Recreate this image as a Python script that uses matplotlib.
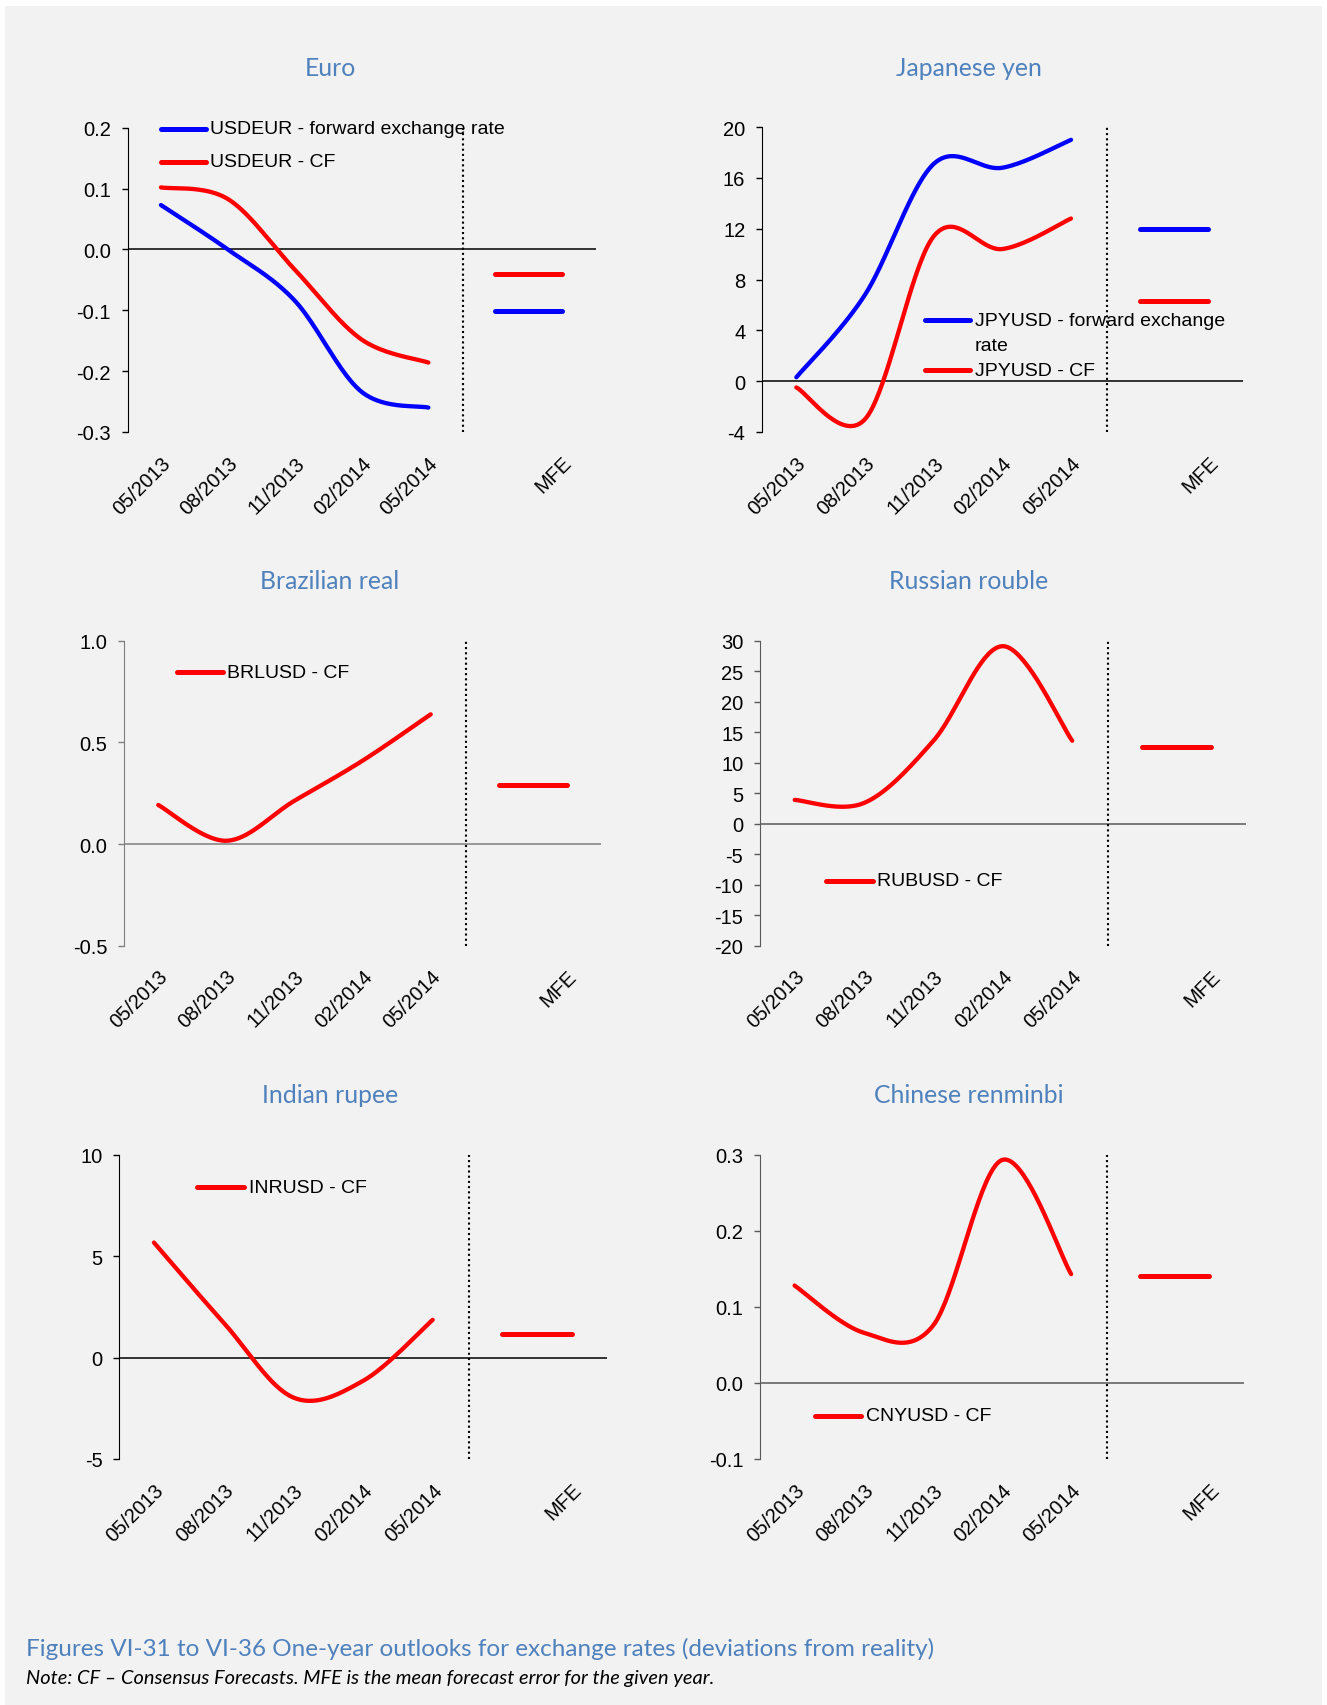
import numpy as np
import matplotlib
matplotlib.use('Agg')
import matplotlib.pyplot as plt
from matplotlib.lines import Line2D
from matplotlib.patches import Rectangle

W, H = 1327, 1706

# x axis categories (quarterly) + the MFE slot
dates = ['05/2013', '08/2013', '11/2013', '02/2014', '05/2014']
mfe_label = 'MFE'

# values
eur_fwd = [0.073, 0.0, -0.084, -0.234, -0.26]
eur_cf = [0.102, 0.083, -0.033, -0.148, -0.186]
eur_mfe_fwd = -0.102
eur_mfe_cf = -0.040

jpy_fwd = [0.3, 6.8, 17.1, 16.8, 19.0]
jpy_cf = [-0.5, -3.0, 11.4, 10.4, 12.8]
jpy_mfe_fwd = 12.0
jpy_mfe_cf = 6.3

brl_cf = [0.192, 0.016, 0.213, 0.41, 0.638]
brl_mfe_cf = 0.29

rub_cf = [3.9, 3.4, 13.6, 29.1, 13.6]
rub_mfe_cf = 12.6

inr_cf = [5.67, 1.72, -1.97, -1.15, 1.86]
inr_mfe_cf = 1.15

cny_cf = [0.128, 0.066, 0.075, 0.293, 0.143]
cny_mfe_cf = 0.141

RED = '#ff0000'
BLUE = '#0000ff'
TITLE_BLUE = '#4f81bd'
NUM_FONT = 'Liberation Sans'
TXT_FONT = 'Lato'


def smooth(xs, ys, n=40):
    # excel style smoothed line (catmull-rom through the points)
    px = np.concatenate([[xs[0]], xs, [xs[-1]]]).astype(float)
    py = np.concatenate([[ys[0]], ys, [ys[-1]]]).astype(float)
    t = np.linspace(0, 1, n)
    ox, oy = [], []
    for i in range(1, len(px) - 2):
        for p, out in ((px, ox), (py, oy)):
            p0, p1, p2, p3 = p[i - 1], p[i], p[i + 1], p[i + 2]
            seg = 0.5 * (2 * p1 + (-p0 + p2) * t + (2 * p0 - 5 * p1 + 4 * p2 - p3) * t ** 2
                         + (-p0 + 3 * p1 - 3 * p2 + p3) * t ** 3)
            out.extend(seg)
    return np.array(ox), np.array(oy)


def fx(x):
    return x / W


def fy(y):
    return 1 - y / H


fig = plt.figure(figsize=(W / 100, H / 100), dpi=100, facecolor='white')
fig.add_artist(Rectangle((fx(5), 0), fx(1322) - fx(5), fy(7), transform=fig.transFigure,
                         facecolor='#f2f2f2', edgecolor='none', zorder=-10))


def panel(box, title, title_xy, series, ylim, ystep, fmt, axcol, legend):
    left, right, top, bottom = box
    ax = fig.add_axes([fx(left), fy(bottom), fx(right) - fx(left), fy(top) - fy(bottom)])
    ax.set_facecolor('none')
    x = np.arange(len(dates))
    for vals, mfe, col in series:
        sx, sy = smooth(x, vals)
        ax.plot(sx, sy, color=col, lw=3.1, solid_capstyle='round')
        ax.plot([5, 6], [mfe, mfe], color=col, lw=3.6, solid_capstyle='round')
    ax.axhline(0, color=axcol, lw=1.1, zorder=0)
    ax.axvline(4.52, color='black', ls=(0, (1, 1.5)), lw=1.5)
    ax.set_xlim(-0.5, 6.5)
    ax.set_ylim(*ylim)
    ticks = np.arange(ylim[0], ylim[1] + ystep / 2, ystep)
    ax.set_yticks(ticks)
    ax.set_yticklabels([fmt % v for v in ticks], fontsize=14.5, family=NUM_FONT)
    ax.set_xticks(list(x) + [6])
    ax.set_xticklabels(dates + [mfe_label], rotation=45, ha='right', va='top',
                       rotation_mode='anchor', fontsize=14.5, family=NUM_FONT)
    for s in ('top', 'right', 'bottom'):
        ax.spines[s].set_visible(False)
    ax.spines['left'].set_color(axcol)
    ax.tick_params(axis='y', length=4, width=1, color=axcol, pad=8)
    ax.tick_params(axis='x', length=0, pad=15)
    fig.text(fx(title_xy[0]), fy(title_xy[1]), title, ha='center', va='center',
             fontsize=17.8, color=TITLE_BLUE, family=TXT_FONT)
    for (x0, x1, y, tx), label, col in legend:
        fig.add_artist(Line2D([fx(x0), fx(x1)], [fy(y), fy(y)], transform=fig.transFigure,
                              color=col, lw=3.6, solid_capstyle='round'))
        for k, part in enumerate(label.split('\n')):
            fig.text(fx(tx), fy(y + 26 * k), part, ha='left', va='center', fontsize=14,
                     family=NUM_FONT)
    return ax


panel((127.5, 595.5, 128.8, 432.9), 'Euro', (330, 69),
      [(eur_fwd, eur_mfe_fwd, BLUE), (eur_cf, eur_mfe_cf, RED)],
      (-0.3, 0.2), 0.1, '%.1f', 'black',
      [((161, 206, 129.5, 210), 'USDEUR - forward exchange rate', BLUE),
       ((161, 206, 162.5, 210), 'USDEUR - CF', RED)])

panel((762, 1242.7, 128.1, 432.9), 'Japanese yen', (969, 69),
      [(jpy_fwd, jpy_mfe_fwd, BLUE), (jpy_cf, jpy_mfe_cf, RED)],
      (-4, 20), 4, '%d', 'black',
      [((925, 970, 321, 975), 'JPYUSD - forward exchange\nrate', BLUE),
       ((925, 970, 371, 975), 'JPYUSD - CF', RED)])

panel((124.2, 601, 641.7, 946.7), 'Brazilian real', (330, 582),
      [(brl_cf, brl_mfe_cf, RED)],
      (-0.5, 1.0), 0.5, '%.1f', '#7f7f7f',
      [((177, 223, 673.3, 227), 'BRLUSD - CF', RED)])

panel((760, 1245.7, 641.7, 946.7), 'Russian rouble', (969, 582),
      [(rub_cf, rub_mfe_cf, RED)],
      (-20, 30), 5, '%d', '#595959',
      [((826, 873, 881.7, 877), 'RUBUSD - CF', RED)])

panel((119.1, 606.9, 1155.7, 1460), 'Indian rupee', (330, 1096),
      [(inr_cf, inr_mfe_cf, RED)],
      (-5, 10), 5, '%d', 'black',
      [((197, 244, 1188.3, 249), 'INRUSD - CF', RED)])

panel((760, 1244, 1155.7, 1460), 'Chinese renminbi', (969, 1096),
      [(cny_cf, cny_mfe_cf, RED)],
      (-0.1, 0.3), 0.1, '%.1f', '#595959',
      [((815, 861, 1416.7, 866), 'CNYUSD - CF', RED)])

fig.text(fx(26), fy(1649), 'Figures VI-31 to VI-36 One-year outlooks for exchange rates (deviations from reality)',
         ha='left', va='center', fontsize=17.5, color=TITLE_BLUE, family=TXT_FONT)
fig.text(fx(26), fy(1679), 'Note: CF \u2013 Consensus Forecasts. MFE is the mean forecast error for the given year.',
         ha='left', va='center', fontsize=14.4, color='black', family=TXT_FONT, style='italic')

fig.savefig('out.png', dpi=100, facecolor='white')
